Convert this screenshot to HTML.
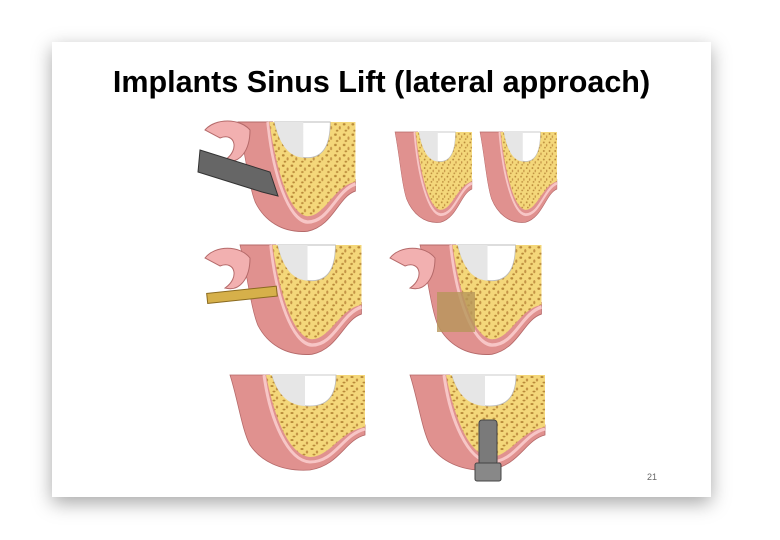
<!DOCTYPE html>
<html><head><meta charset="utf-8"><style>
body{margin:0;width:780px;height:540px;background:#fff;overflow:hidden;font-family:"Liberation Sans",sans-serif;}
.slide{position:absolute;left:52px;top:42px;width:659px;height:455px;background:#fff;box-shadow:0 6px 18px rgba(0,0,0,0.35);}
h1{position:absolute;left:0;width:100%;top:23px;margin:0;text-align:center;font-size:30.5px;font-weight:bold;color:#000;}
.pn{position:absolute;left:595px;top:430px;font-size:9px;color:#666;}
svg{position:absolute;left:0;top:0;}
</style></head><body>
<div class="slide"><h1>Implants Sinus Lift (lateral approach)</h1><div class="pn">21</div></div>
<svg width="780" height="540" viewBox="0 0 780 540">
<defs>
<pattern id="dots" width="10" height="9" patternUnits="userSpaceOnUse">
<rect width="10" height="9" fill="#f4d77a"/>
<ellipse cx="2" cy="2" rx="1.6" ry="1" fill="#b98a3a"/>
<ellipse cx="7" cy="5" rx="1.2" ry="1.5" fill="#c49446"/>
<ellipse cx="4" cy="7.5" rx="1.5" ry="0.9" fill="#b98a3a"/>
</pattern>
<g id="jaw">
<path d="M0,0 L40,0 C45,40 60,75 80,78 C100,78 110,55 135,50 L135,60 C115,65 110,90 80,95 C50,97 30,85 20,70 C12,55 8,25 0,0 Z" fill="#e0918f" stroke="#b56a6a" stroke-width="0.8"/>
<path d="M34,0 C40,45 58,86 80,87 C105,87 112,60 135,54" fill="none" stroke="#f7c6c6" stroke-width="3"/>
<path d="M36,0 L135,0 L135,52 C110,56 100,82 80,82 C58,80 44,40 36,0 Z" fill="url(#dots)"/>
<path d="M42,0 L106,0 C106,20 98,31 80,31 C60,31 48,20 42,0 Z" fill="#fff" stroke="#bbb" stroke-width="0.8"/>
<path d="M42,0 L75,0 L75,31 C58,30 48,20 42,0 Z" fill="#e6e6e6"/>
</g>
</defs>
<g transform="translate(238,122) scale(0.87,1.15)"><use href="#jaw"/></g>
<path d="M205,130 C215,118 240,118 250,130 C250,150 240,165 225,160 C240,150 235,132 220,138 Z" fill="#f2b0b0" stroke="#b56a6a"/>
<path d="M200,150 L270,172 L278,196 L262,192 L198,172 Z" fill="#666" stroke="#333"/>
<g transform="translate(395,132) scale(0.57,0.95)"><use href="#jaw"/></g>
<g transform="translate(480,132) scale(0.57,0.95)"><use href="#jaw"/></g>
<g transform="translate(240,245) scale(0.9,1.15)"><use href="#jaw"/></g>
<path d="M205,258 C215,245 240,245 250,258 C250,278 240,292 225,288 C240,278 235,260 220,266 Z" fill="#f2b0b0" stroke="#b56a6a"/>
<rect x="207" y="290" width="70" height="10" fill="#d6b04a" stroke="#8a6a20" transform="rotate(-6 240 295)"/>
<g transform="translate(420,245) scale(0.9,1.15)"><use href="#jaw"/></g>
<path d="M390,258 C400,245 425,245 435,258 C435,278 425,292 410,288 C425,278 420,260 405,266 Z" fill="#f2b0b0" stroke="#b56a6a"/>
<rect x="437" y="292" width="38" height="40" fill="#b6965a" opacity="0.8"/>
<g transform="translate(230,375)"><use href="#jaw"/></g>
<g transform="translate(410,375)"><use href="#jaw"/></g>
<rect x="479" y="420" width="18" height="45" rx="3" fill="#7a7a7a" stroke="#444"/>
<rect x="475" y="463" width="26" height="18" rx="2" fill="#888" stroke="#444"/>
</svg>
</body></html>
